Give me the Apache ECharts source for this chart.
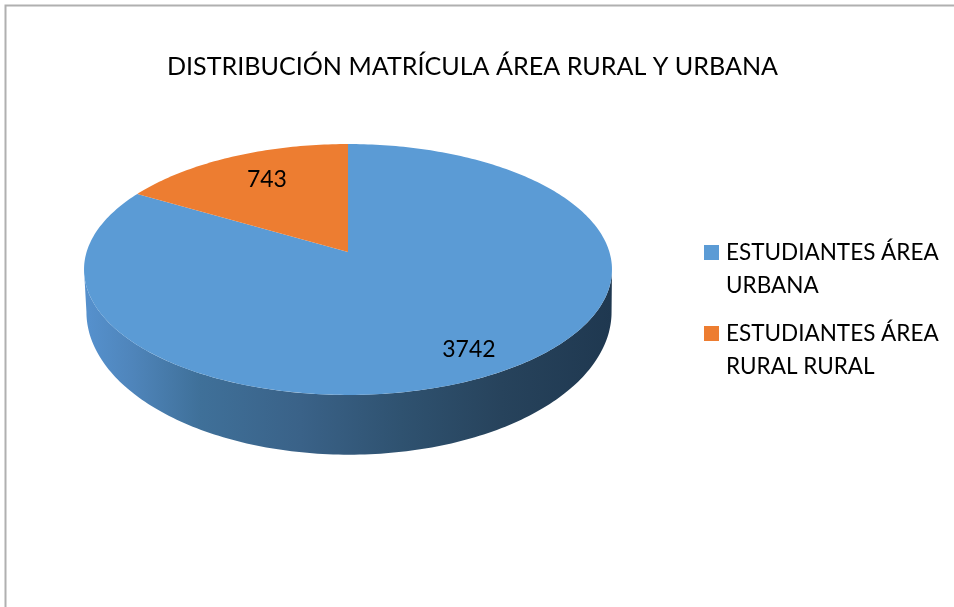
<!DOCTYPE html>
<html>
<head>
<meta charset="utf-8">
<style>
  html, body { margin: 0; padding: 0; background: #fff; }
  #chart { width: 954px; height: 607px; }
</style>
</head>
<body>
<div id="chart"></div>
<script src="https://cdn.jsdelivr.net/npm/echarts@6/dist/echarts.min.js"></script>
<script>
  const titleText = 'DISTRIBUCIÓN MATRÍCULA ÁREA RURAL Y URBANA';
  const categories = ['ESTUDIANTES ÁREA\nURBANA', 'ESTUDIANTES ÁREA\nRURAL RURAL'];
  const values = [3742, 743];
  const colors = ['#5b9bd5', '#ed7d31'];
  const labelRadius = [0.83, 0.72];

  const total = values.reduce((a, b) => a + b, 0);
  const font = 'Lato';

  // the pie is tilted with some perspective, so a circle is projected by hand
  const K = 0.1395;
  const topFace = { cx: 348, cy: 252, a: 261.4, b: 123 };
  const bottomFace = { cx: 349, cy: 292, a: 260, b: 140 };
  const labelShift = [[1, -1], [5, -2]];

  // angle in radians, clockwise from the top
  function project(face, angle, r) {
    const u = Math.sin(angle) * r;
    const v = Math.cos(angle) * r;
    const w = 1 + K * v;
    return [face.cx + face.a * u / w, face.cy - face.b * v / w];
  }

  function frontEdge(face) {
    const pts = [];
    for (let d = 0; d <= 360; d++) {
      pts.push(project(face, d * Math.PI / 180, 1));
    }
    let right = 0;
    let left = 0;
    pts.forEach((p, i) => {
      if (p[0] > pts[right][0]) right = i;
      if (p[0] < pts[left][0]) left = i;
    });
    return pts.slice(right, left + 1);
  }

  function renderSide(params, api) {
    const points = frontEdge(topFace).concat(frontEdge(bottomFace).reverse());
    return {
      type: 'polygon',
      shape: { points },
      style: { fill: api.visual('color') }
    };
  }

  function renderSlice(params, api) {
    const idx = params.seriesIndex - 1;
    let before = 0;
    for (let i = 0; i < idx; i++) before += values[i];
    const start = before / total * Math.PI * 2;
    const end = (before + api.value(0)) / total * Math.PI * 2;
    const points = [project(topFace, 0, 0)];
    const steps = Math.ceil((end - start) * 180 / Math.PI);
    for (let s = 0; s <= steps; s++) {
      points.push(project(topFace, start + (end - start) * s / steps, 1));
    }
    const pos = project(topFace, (start + end) / 2, labelRadius[idx]);
    return {
      type: 'group',
      children: [{
        type: 'polygon',
        shape: { points },
        style: { fill: api.visual('color') }
      }, {
        type: 'text',
        z2: 10,
        style: {
          x: pos[0] + labelShift[idx][0],
          y: pos[1] + labelShift[idx][1],
          text: String(api.value(0)),
          fill: '#000',
          fontFamily: font,
          fontSize: 23,
          align: 'center',
          verticalAlign: 'middle'
        }
      }]
    };
  }

  const sideSeries = {
    type: 'custom',
    name: 'lateral',
    coordinateSystem: 'none',
    silent: true,
    animation: false,
    renderItem: renderSide,
    data: [[0]],
    itemStyle: {
      color: {
        type: 'linear',
        x: 84, y: 0, x2: 612, y2: 0,
        global: true,
        colorStops: [
          { offset: 0.01, color: '#5590cc' },
          { offset: 0.09, color: '#4f85bb' },
          { offset: 0.22, color: '#3f7099' },
          { offset: 0.41, color: '#3a6288' },
          { offset: 0.6, color: '#2f5270' },
          { offset: 0.79, color: '#27435c' },
          { offset: 1, color: '#1f3850' }
        ]
      }
    }
  };

  const sliceSeries = categories.map((name, i) => ({
    type: 'custom',
    name,
    coordinateSystem: 'none',
    animation: false,
    renderItem: renderSlice,
    data: [[values[i]]],
    itemStyle: { color: colors[i] }
  }));

  const chart = echarts.init(document.getElementById('chart'));
  chart.setOption({
    backgroundColor: '#fff',
    title: {
      text: titleText,
      left: 167,
      top: 54,
      padding: 0,
      textStyle: { fontFamily: font, fontSize: 25.1, fontWeight: 'normal', color: '#000' }
    },
    legend: {
      data: categories,
      orient: 'vertical',
      left: 704,
      top: 236,
      padding: 0,
      itemWidth: 15,
      itemHeight: 48,
      itemGap: 15,
      // square sits at the top of the icon box so it lines up with the first text line
      icon: 'path://M0,0H15V15H0Z M0,48L15,48',
      textStyle: {
        fontFamily: font,
        fontSize: 22.5,
        lineHeight: 33,
        color: '#000',
        padding: [0, 0, 0, 2]
      }
    },
    graphic: [{
      type: 'polyline',
      silent: true,
      shape: { points: [[5.5, 607], [5.5, 5.5], [954, 5.5]] },
      style: { stroke: '#b0b0b0', lineWidth: 2, fill: null }
    }],
    series: [sideSeries].concat(sliceSeries)
  });
</script>
</body>
</html>
